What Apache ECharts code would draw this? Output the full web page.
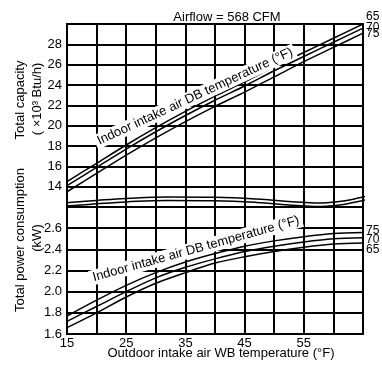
<!DOCTYPE html>
<html>
<head>
<meta charset="utf-8">
<style>
  html, body { margin: 0; padding: 0; background: #fff; }
  #chart { width: 382px; height: 365px; }
</style>
<script src="https://cdn.jsdelivr.net/npm/echarts@6/dist/echarts.min.js"></script>
</head>
<body>
<div id="chart"></div>
<script>
// Outdoor intake air WB temperature (°F)
const wbTemps = [15, 20, 25, 30, 35, 40, 45, 50, 55, 60, 65];

// Total capacity (×10³ Btu/h) per indoor intake air DB temperature (°F)
const capacity65 = [14.5, 16.3, 18.1, 19.8, 21.4, 22.9, 24.3, 25.8, 27.2, 28.6, 30.0];
const capacity70 = [14.1, 15.9, 17.7, 19.4, 21.0, 22.5, 23.9, 25.4, 26.8, 28.2, 29.6];
const capacity75 = [13.5, 15.3, 17.1, 18.8, 20.4, 21.9, 23.3, 24.8, 26.3, 27.7, 29.1];

// Total power consumption (kW) per indoor intake air DB temperature (°F)
const power75 = [1.77, 1.92, 2.06, 2.18, 2.28, 2.36, 2.43, 2.48, 2.52, 2.55, 2.56];
const power70 = [1.72, 1.86, 2.00, 2.13, 2.23, 2.31, 2.38, 2.43, 2.47, 2.50, 2.51];
const power65 = [1.66, 1.80, 1.95, 2.08, 2.18, 2.27, 2.33, 2.38, 2.42, 2.45, 2.46];

// Axis tick labels
const xTickLabels = [15, 25, 35, 45, 55];
const capTickLabels = [14, 16, 18, 20, 22, 24, 26, 28];
const powTickLabels = [1.6, 1.8, 2.0, 2.2, 2.4, 2.6];

// Wavy axis-break marker drawn between the two panels (capacity scale)
const breakX = [14.2, 20, 25, 32, 40, 47, 53, 56, 58, 60, 62, 64, 65.9];
const breakUpper = [12.40, 12.65, 12.84, 12.99, 12.96, 12.79, 12.52, 12.42, 12.40, 12.47, 12.62, 12.85, 13.10];
const breakLower = breakUpper.map(v => Math.round((v - 0.34) * 100) / 100);

const FONT = '"Liberation Sans", Arial, Helvetica, sans-serif';
const zip = (xs, ys) => xs.map((x, i) => [x, ys[i]]);

const chart = echarts.init(document.getElementById('chart'), null, { renderer: 'canvas' });

const gridLine = { show: true, lineStyle: { color: '#000', width: 2 } };

function curve(name, xi, yi, data, labelDy) {
  return {
    name, type: 'line', xAxisIndex: xi, yAxisIndex: yi,
    data: zip(wbTemps, data), smooth: 0.3, symbol: 'none', clip: true,
    lineStyle: { color: '#000', width: 1.5 }, z: 5,
    endLabel: {
      show: true, formatter: name, color: '#000', fontFamily: FONT, fontSize: 12,
      distance: 3, offset: [0, labelDy]
    }
  };
}

function breakLine(ys) {
  return {
    type: 'line', xAxisIndex: 0, yAxisIndex: 0, data: zip(breakX, ys),
    smooth: 0.4, symbol: 'none', clip: false, silent: true,
    lineStyle: { color: '#000', width: 1.5 }, z: 6
  };
}

const option = {
  animation: false,
  backgroundColor: '#fff',
  textStyle: { fontFamily: FONT },
  title: {
    text: 'Airflow = 568 CFM', left: 222, top: 6, textAlign: 'center',
    textStyle: { fontFamily: FONT, fontSize: 13, fontWeight: 'normal', color: '#000' }
  },
  grid: [
    { left: 67, right: 19, top: 24, height: 183, show: true, borderColor: '#000', borderWidth: 2, containLabel: false },
    { left: 67, right: 19, top: 207, height: 127, show: true, borderColor: '#000', borderWidth: 2, containLabel: false }
  ],
  xAxis: [
    { gridIndex: 0, type: 'value', min: 15, max: 65, interval: 5,
      axisLine: { show: false }, axisTick: { show: false }, axisLabel: { show: false },
      splitLine: gridLine },
    { gridIndex: 1, type: 'value', min: 15, max: 65, interval: 5,
      axisLine: { show: false }, axisTick: { show: false },
      axisLabel: { color: '#000', fontSize: 13, fontFamily: FONT, margin: 3,
        formatter: v => xTickLabels.includes(v) ? String(v) : '' },
      splitLine: gridLine }
  ],
  yAxis: [
    { gridIndex: 0, type: 'value', min: 12, max: 30, interval: 2,
      axisLine: { show: false }, axisTick: { show: false },
      axisLabel: { color: '#000', fontSize: 13, fontFamily: FONT, margin: 5,
        formatter: v => capTickLabels.includes(v) ? String(v) : '' },
      splitLine: gridLine }
    ,
    { gridIndex: 1, type: 'value', min: 1.6, max: 2.8, interval: 0.2,
      axisLine: { show: false }, axisTick: { show: false },
      axisLabel: { color: '#000', fontSize: 13, fontFamily: FONT, margin: 5,
        formatter: v => {
          const r = Math.round(v * 10) / 10;
          return powTickLabels.includes(r) ? r.toFixed(1) : '';
        } },
      splitLine: gridLine }
  ],
  series: [
    curve('65', 0, 0, capacity65, -7),
    curve('70', 0, 0, capacity70, 0),
    curve('75', 0, 0, capacity75, 1),
    curve('75', 1, 1, power75, -1.5),
    curve('70', 1, 1, power70, 2),
    curve('65', 1, 1, power65, 7),
    breakLine(breakUpper),
    breakLine(breakLower)
  ],
  graphic: [
    { type: 'text', x: 20, y: 100, rotation: Math.PI / 2,
      style: { text: 'Total capacity', font: '13px ' + FONT, fill: '#000', align: 'center', verticalAlign: 'middle' } },
    { type: 'text', x: 37, y: 99, rotation: Math.PI / 2,
      style: { text: '( ×10³ Btu/h)', font: '13px ' + FONT, fill: '#000', align: 'center', verticalAlign: 'middle' } },
    { type: 'text', x: 20, y: 240, rotation: Math.PI / 2,
      style: { text: 'Total power consumption', font: '13px ' + FONT, fill: '#000', align: 'center', verticalAlign: 'middle' } },
    { type: 'text', x: 37, y: 238, rotation: Math.PI / 2,
      style: { text: '(kW)', font: '13px ' + FONT, fill: '#000', align: 'center', verticalAlign: 'middle' } },
    { type: 'text', x: 221, y: 353,
      style: { text: 'Outdoor intake air WB temperature (°F)', font: '13px ' + FONT, fill: '#000', align: 'center', verticalAlign: 'middle' } },
    { type: 'text', x: 195, y: 96.5, rotation: 24.9 * Math.PI / 180, z: 20,
      style: { text: 'Indoor intake air DB temperature (°F)', font: '13px ' + FONT, fill: '#000',
        align: 'center', verticalAlign: 'middle', backgroundColor: '#fff', padding: [1, 3] } },
    { type: 'text', x: 196, y: 249, rotation: 15.6 * Math.PI / 180, z: 20,
      style: { text: 'Indoor intake air DB temperature (°F)', font: '13px ' + FONT, fill: '#000',
        align: 'center', verticalAlign: 'middle', backgroundColor: '#fff', padding: [1, 3] } }
  ]
};

chart.setOption(option);
</script>
</body>
</html>
